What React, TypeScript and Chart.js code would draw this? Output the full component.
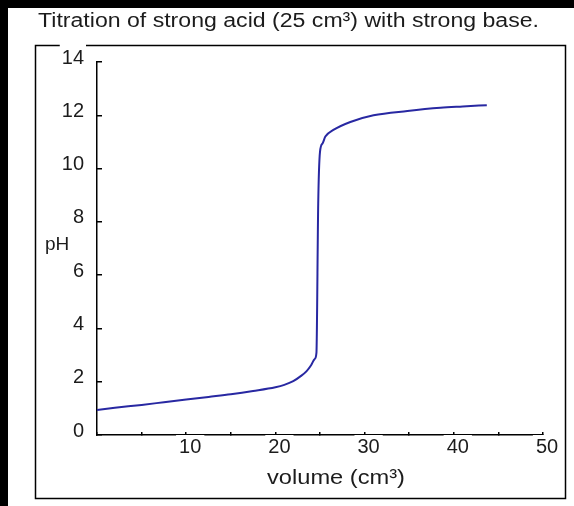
import React, { useEffect, useRef } from 'react';
import { Chart, registerables } from 'chart.js';

Chart.register(...registerables);

// ---- data ----
const volume = [0, 2, 5, 7.5, 10, 12.5, 15, 17.5, 20, 21, 22, 22.8, 23.5, 24.0, 24.4, 24.6, 24.8, 25.0, 25.3, 25.6, 26.5, 28.4, 31, 34.8, 38.5, 41, 43.7];
const pH = [0.94, 1.02, 1.13, 1.23, 1.33, 1.43, 1.53, 1.65, 1.79, 1.88, 2.02, 2.2, 2.4, 2.62, 2.85, 3.08, 8.7, 10.63, 10.95, 11.2, 11.45, 11.75, 12.0, 12.16, 12.28, 12.33, 12.38];

const xLabelValues = [10, 20, 30, 40, 50];
const TITLE = 'Titration of strong acid (25 cm³) with strong base.';
const X_TITLE = 'volume (cm³)';
const Y_TITLE = 'pH';

const FONT = '"Liberation Sans", Arial, sans-serif';
const TEXT_COLOR = '#1c1c1c';

function drawStretched(
  ctx: CanvasRenderingContext2D,
  text: string,
  x: number,
  y: number,
  width: number,
  align: CanvasTextAlign,
  baseline: CanvasTextBaseline,
  font: string
) {
  ctx.save();
  ctx.font = font;
  ctx.fillStyle = TEXT_COLOR;
  ctx.textAlign = align;
  ctx.textBaseline = baseline;
  const w = ctx.measureText(text).width;
  const s = width / w;
  ctx.translate(x, y);
  ctx.scale(s, 1);
  ctx.fillText(text, 0, 0);
  ctx.restore();
}

const decorPlugin = {
  id: 'decor',
  beforeDraw(chart: any) {
    const ctx = chart.ctx as CanvasRenderingContext2D;
    ctx.save();
    ctx.strokeStyle = '#000';
    ctx.lineWidth = 1.5;
    ctx.strokeRect(27.5, 37.5, 530, 453);
    ctx.restore();
  },
  afterDraw(chart: any) {
    const ctx = chart.ctx as CanvasRenderingContext2D;
    drawStretched(ctx, TITLE, 30, 19, 501, 'left', 'alphabetic', `20px ${FONT}`);
    drawStretched(ctx, X_TITLE, 328, 470, 138, 'center', 'middle', `20px ${FONT}`);
    ctx.save();
    ctx.font = `19px ${FONT}`;
    ctx.fillStyle = TEXT_COLOR;
    ctx.textAlign = 'left';
    ctx.textBaseline = 'middle';
    ctx.fillText(Y_TITLE, 37, 237);
    ctx.restore();
  },
};

export default function App() {
  const ref = useRef<HTMLCanvasElement | null>(null);

  useEffect(() => {
    if (!ref.current) return;
    const chart = new Chart(ref.current, {
      type: 'line',
      data: {
        datasets: [
          {
            data: volume.map((v, i) => ({ x: v, y: pH[i] })),
            borderColor: '#2828a2',
            borderWidth: 2,
            pointRadius: 0,
            fill: false,
            cubicInterpolationMode: 'monotone',
          },
        ],
      },
      options: {
        animation: false,
        responsive: false,
        devicePixelRatio: 1,
        layout: { padding: { left: 0, top: 54, right: 31, bottom: 0 } },
        plugins: {
          legend: { display: false },
          title: { display: false },
          tooltip: { enabled: false },
        },
        scales: {
          x: {
            type: 'linear',
            min: 0,
            max: 50,
            border: { display: true, color: '#000', width: 1.5 },
            grid: {
              display: true,
              drawOnChartArea: false,
              drawTicks: true,
              tickLength: -3,
              color: '#000',
              lineWidth: 1.5,
            },
            ticks: {
              stepSize: 5,
              autoSkip: false,
              maxRotation: 0,
              padding: 3,
              labelOffset: 4,
              color: TEXT_COLOR,
              font: { family: FONT, size: 20 },
              showLabelBackdrop: true,
              backdropPadding: { top: 8, bottom: 2, left: 3, right: 3 },
              backdropColor: (c: any) => (xLabelValues.includes(c.tick?.value) ? '#ffffff' : 'rgba(0,0,0,0)'),
              callback: (v: any) => (xLabelValues.includes(Number(v)) ? String(v) : ''),
            },
            afterFit: (s: any) => {
              s.height = 71;
            },
          },
          y: {
            type: 'linear',
            min: 0,
            max: 14,
            border: { display: true, color: '#000', width: 1.5 },
            grid: {
              display: true,
              drawOnChartArea: false,
              drawTicks: true,
              tickLength: -5,
              color: '#000',
              lineWidth: 1.5,
            },
            ticks: {
              stepSize: 2,
              autoSkip: false,
              padding: 18,
              labelOffset: -4,
              color: TEXT_COLOR,
              font: { family: FONT, size: 20 },
              showLabelBackdrop: true,
              backdropPadding: 2,
              backdropColor: '#ffffff',
            },
            afterFit: (s: any) => {
              s.width = 89;
            },
          },
        },
      },
      plugins: [decorPlugin],
    } as any);
    return () => chart.destroy();
  }, []);

  return (
    <div style={{ position: 'fixed', left: 0, top: 0, right: 0, bottom: 0, background: '#000' }}>
      <div style={{ position: 'absolute', left: 8, top: 8, width: 566, height: 498, background: '#fff' }}>
        <canvas ref={ref} width={566} height={498} style={{ display: 'block', width: 566, height: 498 }} />
      </div>
    </div>
  );
}
